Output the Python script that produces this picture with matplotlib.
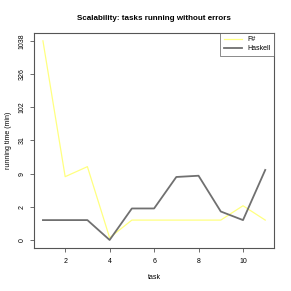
import numpy as np
import matplotlib
matplotlib.use("Agg")
import matplotlib.pyplot as plt

# data (running time in minutes, per task)
tasks = [1, 2, 3, 4, 5, 6, 7, 8, 9, 10, 11]
fsharp = [1038, 8.1, 11.9, 0.08, 1, 1, 1, 1, 1, 2.3, 1]
haskell = [1, 1, 1, 0, 2, 2, 8, 8.4, 1.7, 1, 10.5]
ytick_labels = ['0', '2', '9', '31', '102', '326', '1038']

plt.rcParams['font.family'] = ['Liberation Sans', 'DejaVu Sans']
fig = plt.figure(figsize=(2.91, 2.91), dpi=100)
ax = fig.add_axes([0.117, 0.148, 0.825, 0.739])

# log(y+1) scale
ax.set_yscale('function', functions=(np.log1p, np.expm1))
ax.plot(tasks, fsharp, color='#ffff80', lw=0.9, label='F#')
ax.plot(tasks, haskell, color='#707070', lw=1.3, label='Haskell')

ymax = max(fsharp)
ax.set_xlim(1 - 0.4, 11 + 0.4)
lo, hi = 0, np.log1p(ymax)
pad = (hi - lo) * 0.04
ax.set_ylim(np.expm1(lo - pad), np.expm1(hi + pad))

yt = np.expm1(np.linspace(0, hi, len(ytick_labels)))
ax.set_yticks(yt)
ax.set_yticklabels(ytick_labels, rotation=90, va='center', fontsize=5)
ax.set_xticks([2, 4, 6, 8, 10])
ax.tick_params(axis='x', labelsize=5, length=3, width=0.6, color='#555555', pad=4)
ax.tick_params(axis='y', length=3, width=0.6, color='#555555', pad=3)
ax.minorticks_off()

for s in ax.spines.values():
    s.set_color('#555555')
    s.set_linewidth(0.8)

ax.set_xlabel('task', fontsize=5, labelpad=7)
ax.set_ylabel('running time (min)', fontsize=5, labelpad=5)
ax.set_title('Scalability: tasks running without errors', fontsize=5.8, fontweight='bold', pad=9)

leg = ax.legend(loc='upper right', fontsize=5, frameon=True, fancybox=False,
                borderaxespad=0, handlelength=2.6, borderpad=0.5, labelspacing=0.3)
leg.get_frame().set_edgecolor('#555555')
leg.get_frame().set_linewidth(0.6)

fig.savefig('out.png', dpi=100)
